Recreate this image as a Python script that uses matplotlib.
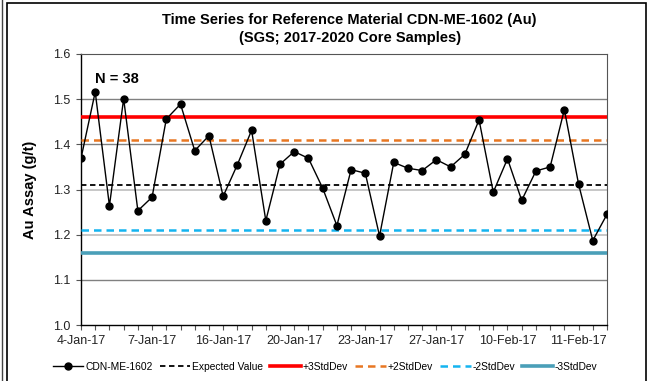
import matplotlib
matplotlib.use('Agg')
import matplotlib.pyplot as plt
import numpy as np

plt.rcParams['font.family'] = ['Liberation Sans', 'DejaVu Sans']

# assay values for the 38 standard samples
au = [1.369, 1.516, 1.264, 1.501, 1.253, 1.283, 1.456, 1.489, 1.386, 1.419,
      1.285, 1.355, 1.431, 1.231, 1.356, 1.384, 1.369, 1.303, 1.220, 1.344,
      1.336, 1.197, 1.360, 1.347, 1.342, 1.366, 1.350, 1.378, 1.454, 1.294,
      1.368, 1.276, 1.341, 1.350, 1.477, 1.312, 1.187, 1.245]
tick_labels = ['4-Jan-17', '7-Jan-17', '16-Jan-17', '20-Jan-17',
               '23-Jan-17', '27-Jan-17', '10-Feb-17', '11-Feb-17']
expected = 1.31
plus3 = 1.46
plus2 = 1.41
minus2 = 1.21
minus3 = 1.16

x = np.arange(len(au))

fig = plt.figure(figsize=(6.5, 3.81), dpi=100)
ax = fig.add_axes([81 / 650, 1 - 325 / 381, 526 / 650, 271 / 381])

# gridlines
for g in [1.1, 1.4, 1.5]:
    ax.axhline(g, color='#808080', lw=1.0, zorder=1)
for g in [1.2, 1.3]:
    ax.axhline(g, color='#bdbdbd', lw=1.2, zorder=1)

ax.plot(x, au, color='black', lw=1.0, marker='o', ms=5, label='CDN-ME-1602', zorder=5)
ax.axhline(expected, color='black', lw=1.3, ls=(0, (3, 2)), label='Expected Value', zorder=3)
ax.axhline(plus3, color='#FF0000', lw=2.6, label='+3StdDev', zorder=3)
ax.axhline(plus2, color='#E87722', lw=1.8, ls=(0, (3, 2)), label='+2StdDev', zorder=3)
ax.axhline(minus2, color='#14B4F0', lw=1.8, ls=(0, (3, 2)), label='-2StdDev', zorder=3)
ax.axhline(minus3, color='#4A9FB8', lw=2.6, label='-3StdDev', zorder=3)

ax.set_xlim(0, len(au) - 1)
ax.set_ylim(1.0, 1.6)
ax.set_yticks([1.0, 1.1, 1.2, 1.3, 1.4, 1.5, 1.6])
ax.set_yticklabels(['1.0', '1.1', '1.2', '1.3', '1.4', '1.5', '1.6'])
ax.set_xticks(x, minor=True)
ax.set_xticks(x[::5])
ax.set_xticklabels(tick_labels)
ax.tick_params(axis='both', which='both', direction='out', length=3.5, width=0.8,
               color='#555555', labelsize=9, labelcolor='#222222', pad=4)

for s in ['top', 'right']:
    ax.spines[s].set_color('#555555')
    ax.spines[s].set_linewidth(0.8)
for s in ['left', 'bottom']:
    ax.spines[s].set_color('black')
    ax.spines[s].set_linewidth(1.0)

ax.set_ylabel('Au Assay (g/t)', fontsize=10.5, fontweight='bold', labelpad=12)
ax.text(0.027, 0.935, 'N = 38', transform=ax.transAxes, fontsize=10.5,
        fontweight='bold', va='top', ha='left')

fig.text(0.538, 0.965, 'Time Series for Reference Material CDN-ME-1602 (Au)\n(SGS; 2017-2020 Core Samples)',
         ha='center', va='top', fontsize=10.5, fontweight='bold', linespacing=1.35)

fig.legend(loc='center', bbox_to_anchor=(0.5, 1 - 367 / 381), ncol=6, frameon=False,
           fontsize=7.4, handlelength=3.0, handletextpad=0.2, columnspacing=0.65,
           borderaxespad=0)

# outer chart border
fig.add_artist(plt.Rectangle((7 / 650, -0.05), 639 / 650, 1 - 3 / 381 + 0.05,
                             transform=fig.transFigure, fill=False, ec='black', lw=1.2))
fig.add_artist(plt.Line2D([2 / 650, 2 / 650], [0, 1], transform=fig.transFigure,
                          color='#444444', lw=1.0))

fig.savefig('out.png', dpi=100)
